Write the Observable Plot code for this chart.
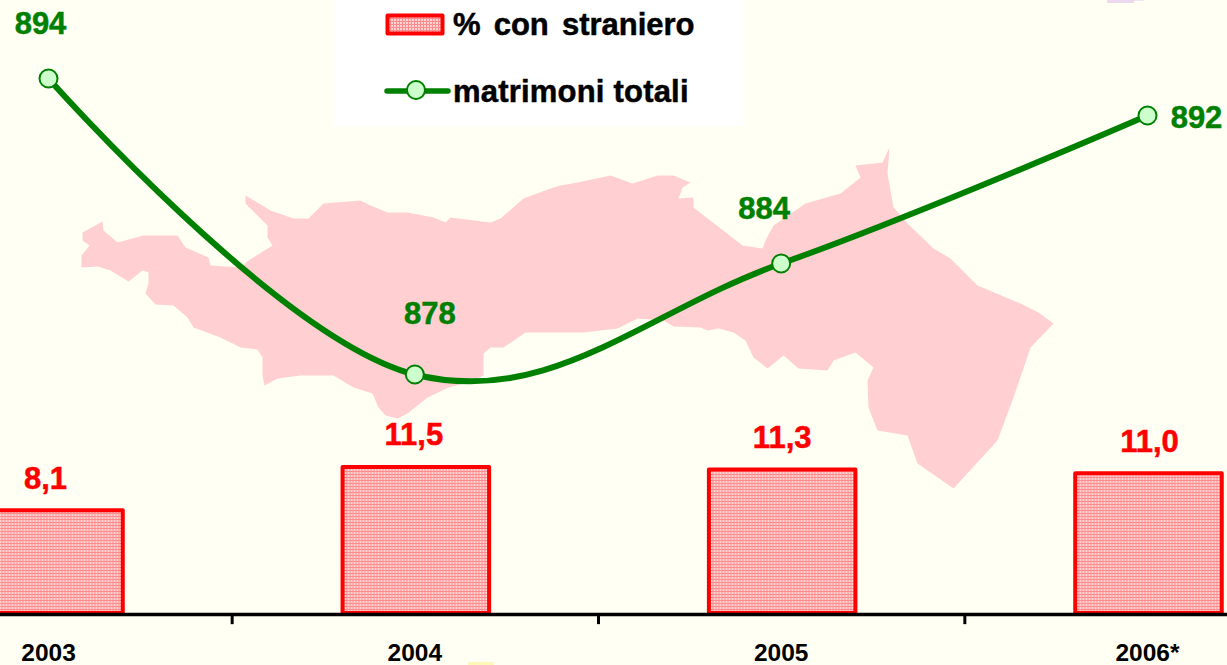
<!DOCTYPE html>
<html>
<head>
<meta charset="utf-8">
<script src="https://cdn.jsdelivr.net/npm/d3@7"></script>
<script src="https://cdn.jsdelivr.net/npm/@observablehq/plot@0.6"></script>
<style>
  html, body { margin: 0; padding: 0; background: #FFFFF3; overflow: hidden; }
  #stage { position: relative; width: 1227px; height: 665px; overflow: hidden; font-family: "Liberation Sans", Arial, sans-serif; font-weight: 700; }
  #stage > svg { position: absolute; left: 0; top: 0; background: transparent; }
  #legend { position: absolute; left: 333px; top: 0; width: 410px; height: 126px; background: #FFFFFF; }
  #legend div { position: absolute; left: 120px; color: #000; font-size: 31px; line-height: 34px; white-space: pre; font-weight: 700; -webkit-text-stroke: 0.5px #000; }
  #legend svg { position: absolute; left: 0; top: 0; }
  .speck { position: absolute; }
</style>
</head>
<body>
<div id="stage"></div>
<script>
const years = [2003, 2004, 2005, 2006];
const yearLabels = ["2003", "2004", "2005", "2006*"];
const foreignShare = [8.1, 11.5, 11.3, 11.0];
const shareLabels = ["8,1", "11,5", "11,3", "11,0"];
const marriages = [894, 878, 884, 892];
const tickYears = [2003.5, 2004.5, 2005.5];
const barHalfWidth = 0.2;
const shareLabelNudge = [-3, -1, 1, 2];

// Background map silhouette (decorative picture behind the chart)
const mapOutline = [[102,221],[82,232],[82,240],[89,245],[81,255],[81,267],[97,266],[110,270],[128,281],[142,270],[148,272],[148,283],[145,293],[155,304],[173,305],[187,317],[193,327],[220,337],[240,347],[257,349],[262,357],[262,375],[264,385],[277,378],[300,375],[333,375],[353,387],[372,393],[378,407],[385,415],[397,418],[407,413],[427,397],[448,387],[468,382],[483,375],[483,353],[490,347],[503,347],[525,332],[560,332],[583,332],[617,328],[637,318],[663,320],[673,326],[700,327],[707,330],[718,328],[733,332],[745,340],[753,357],[767,368],[783,355],[798,368],[827,370],[833,360],[855,352],[873,367],[867,380],[868,407],[877,430],[907,435],[917,463],[953,488],[997,440],[1013,397],[1030,347],[1053,323],[1038,312],[1020,303],[977,285],[950,258],[933,248],[907,223],[893,207],[887,173],[889,147],[882,162],[855,165],[860,177],[840,193],[805,203],[773,225],[765,240],[762,248],[742,245],[693,207],[693,197],[678,198],[682,187],[690,182],[673,175],[657,175],[632,183],[610,175],[577,182],[560,185],[550,188],[523,198],[500,218],[490,222],[450,217],[445,222],[433,217],[407,212],[387,212],[370,205],[360,200],[323,203],[308,218],[293,218],[270,210],[245,195],[245,203],[267,225],[267,237],[272,245],[248,260],[240,267],[210,265],[208,257],[185,247],[177,235],[143,235],[117,242],[103,230],[102,221]];

const W = 1227, H = 665;
const bars = years.map((year, i) => ({year, value: foreignShare[i], label: shareLabels[i], nudge: shareLabelNudge[i]}));
const points = years.map((year, i) => ({year, value: marriages[i]}));
const xScale = {type: "linear", domain: [2003, 2006], range: [48, 1147], axis: null};
const frame = {width: W, height: H, margin: 0, style: {background: "transparent", overflow: "hidden"}};
const bold = {fontFamily: "Liberation Sans, Arial, sans-serif", fontWeight: 700};

const defs = () => {
  const ns = "http://www.w3.org/2000/svg";
  const d = document.createElementNS(ns, "defs");
  d.innerHTML = `<pattern id="dots" width="3" height="3" patternUnits="userSpaceOnUse">
    <rect width="3" height="3" fill="#FF8C8C"/><rect x="1" y="1" width="2" height="2" fill="#FFD4D4"/></pattern>`;
  return d;
};

// Layer 1: map
const mapLayer = Plot.plot({
  ...frame,
  projection: {type: () => d3.geoIdentity()},
  marks: [Plot.geo({type: "Polygon", coordinates: [mapOutline]}, {fill: "#FFCFD1", stroke: "none"})]
});

// Layer 2: bars + axis (percentage scale)
const barLayer = Plot.plot({
  ...frame,
  x: xScale,
  y: {type: "linear", domain: [0, 11.5], range: [613, 467], axis: null},
  marks: [
    defs,
    Plot.rect(bars, {
      x1: d => d.year - barHalfWidth, x2: d => d.year + barHalfWidth, y1: 0, y2: "value", dx: 1.5,
      fill: "url(#dots)", stroke: "#FF0000", strokeWidth: 4, strokeLinejoin: "round"
    }),
    ...bars.map(b => Plot.text([b], {x: "year", y: "value", text: "label", dx: b.nudge, dy: -32, fill: "#FF0000", stroke: "#FF0000", strokeWidth: 0.5, fontSize: 31, ...bold})),
    Plot.ruleY([0], {x1: 2002, x2: 2007, stroke: "#000", strokeWidth: 3.5, dy: 1}),
    Plot.ruleX(tickYears, {y1: 0, y2: -0.8, dx: 0.5, dy: 1, stroke: "#000", strokeWidth: 3}),
    Plot.text(years, {x: d => d, y: 0, text: (d, i) => yearLabels[i], dy: 40, fill: "#000", fontSize: 24.5, ...bold})
  ]
});

// Layer 3: marriages line (count scale)
const lineLabelOffset = {894: [-8, -54], 878: [15, -60], 884: [-17, -54], 892: [49, 3]};
const lineLayer = Plot.plot({
  ...frame,
  x: xScale,
  y: {type: "linear", domain: [878, 894], range: [374, 78], axis: null},
  marks: [
    Plot.line(points, {x: "year", y: "value", stroke: "#008000", strokeWidth: 6, curve: d3.curveCardinal.tension(-0.1)}),
    Plot.dot(points, {x: "year", y: "value", r: 9, fill: "#CCFFCC", stroke: "#008000", strokeWidth: 2}),
    ...points.map(p => Plot.text([p], {
      x: "year", y: "value", text: "value",
      dx: lineLabelOffset[p.value][0], dy: lineLabelOffset[p.value][1],
      fill: "#008000", stroke: "#008000", strokeWidth: 0.5, fontSize: 31, ...bold
    }))
  ]
});

const stage = document.getElementById("stage");
stage.append(mapLayer, barLayer);

const legend = document.createElement("div");
legend.id = "legend";
legend.innerHTML = `
  <svg width="410" height="126">
    <rect x="54.5" y="15.5" width="55" height="18" fill="url(#dots)" stroke="#FF0000" stroke-width="4" stroke-linejoin="round"/>
    <line x1="54" y1="91" x2="115" y2="91" stroke="#008000" stroke-width="5.5" stroke-linecap="round"/>
    <circle cx="83" cy="90" r="9" fill="#CCFFCC" stroke="#008000" stroke-width="2"/>
  </svg>
  <div style="top:8px;word-spacing:4.5px">% con straniero</div>
  <div style="top:75px;letter-spacing:0.2px">matrimoni totali</div>`;
stage.append(legend);
stage.append(lineLayer);

const specks = [[1107, 0, 27, 3, "#EED8F0"], [1134, 0, 10, 1, "#F3E6F3"], [468, 662, 26, 3, "#FFF8B8"]];
for (const [l, t, w, h, c] of specks) {
  const s = document.createElement("div");
  s.className = "speck";
  s.style.cssText = `left:${l}px;top:${t}px;width:${w}px;height:${h}px;background:${c}`;
  stage.append(s);
}
</script>
</body>
</html>
